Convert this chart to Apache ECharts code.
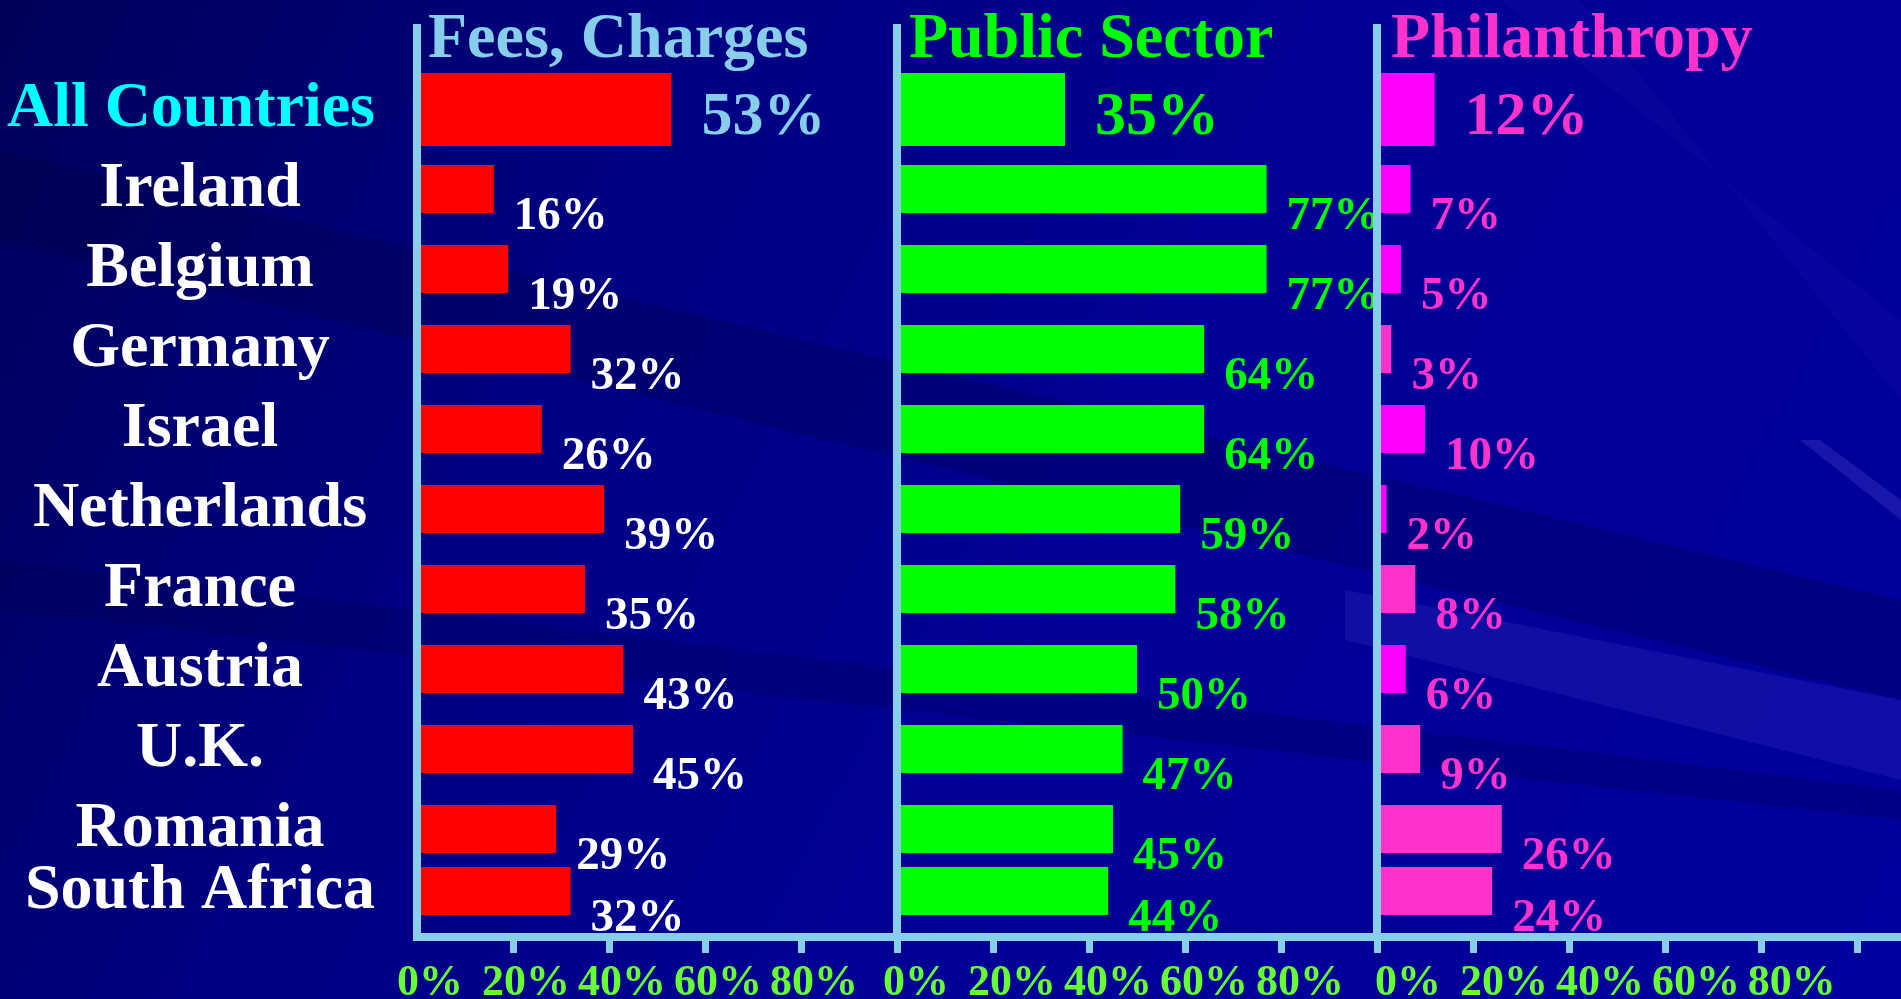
<!DOCTYPE html>
<html>
<head>
<meta charset="utf-8">
<title>Sources of funding</title>
<script src="https://cdn.jsdelivr.net/npm/echarts@6/dist/echarts.min.js"></script>
<style>
  html, body { margin: 0; padding: 0; background: #000090; overflow: hidden; }
  #chart { width: 1901px; height: 999px; }
</style>
</head>
<body>
<div id="chart"></div>
<script>
// data
var countries = ['All Countries', 'Ireland', 'Belgium', 'Germany', 'Israel', 'Netherlands', 'France', 'Austria', 'U.K.', 'Romania', 'South Africa'];
var fees = [53, 16, 19, 32, 26, 39, 35, 43, 45, 29, 32];
var publicSector = [35, 77, 77, 64, 64, 59, 58, 50, 47, 45, 44];
var philanthropy = [12, 7, 5, 3, 10, 2, 8, 6, 9, 26, 24];
var panelTitles = ['Fees, Charges', 'Public Sector', 'Philanthropy'];
var tickValues = [0, 20, 40, 60, 80];

// styles
var FONT = "'Times New Roman', 'Liberation Serif', serif";
var LINE = '#87CEEB';
var PINK = '#FF33CC', MAGENTA = '#FF00FF';
var philColors = [MAGENTA, MAGENTA, MAGENTA, PINK, MAGENTA, MAGENTA, PINK, MAGENTA, PINK, PINK, PINK];

var panels = [
    { data: fees, left: 417, width: 480, max: 100, lineOffset: 0, titleX: 428, titleColor: LINE,
      bar: '#FF0000', label: '#FFFFFF', headLabel: LINE, tickShift: 26 },
    { data: publicSector, left: 897, width: 480, max: 100, lineOffset: 0, titleX: 909, titleColor: '#00FF00',
      bar: '#00FF00', label: '#00FF00', headLabel: '#00FF00', tickShift: 38 },
    { data: philanthropy, left: 1377, width: 523, max: 109, lineOffset: 5, titleX: 1391, titleColor: PINK,
      bar: MAGENTA, label: PINK, headLabel: PINK, tickShift: 62, colors: philColors }
];

// row layout: head row, 9 body rows, squeezed last row
var HEAD_TOP = 73, HEAD_H = 73;
var BODY_TOP = 149, ROW_H = 80;
var TAIL_TOP = 867, BAR_H = 48;
var FRAME_TOP = 28, AXIS_Y = 937;

var myChart = echarts.init(document.getElementById('chart'));

var grid = [], xAxis = [], yAxis = [], series = [], title = [];

function barData(p, from, to) {
    return p.data.slice(from, to).map(function (v, i) {
        if (!p.colors) return v;
        return { value: v, itemStyle: { color: p.colors[from + i] } };
    });
}

panels.forEach(function (p, k) {
    var rows = [
        { top: HEAD_TOP, height: HEAD_H, from: 0, to: 1, barWidth: HEAD_H, head: true },
        { top: BODY_TOP, height: ROW_H * 9, from: 1, to: 10, barWidth: BAR_H },
        { top: TAIL_TOP, height: BAR_H, from: 10, to: 11, barWidth: BAR_H }
    ];

    // frame: axis lines, ticks, tick labels
    var g = grid.length;
    grid.push({ left: p.left, width: p.width, top: FRAME_TOP, height: AXIS_Y - FRAME_TOP, outerBoundsMode: 'none' });
    xAxis.push({
        type: 'value', gridIndex: g, min: 0, max: p.max, z: 5,
        axisLine: { show: true, lineStyle: { color: LINE, width: 8, cap: 'square' } },
        axisTick: { show: true, customValues: [20, 40, 60, 80, 100], length: 16, lineStyle: { color: LINE, width: 7 } },
        axisLabel: {
            customValues: tickValues,
            formatter: function (v) { return v + '%'; },
            color: '#66FF33', fontSize: 44, fontWeight: 'bold', fontFamily: FONT,
            margin: 25, padding: [0, 0, 0, p.tickShift]
        },
        splitLine: { show: false }
    });
    yAxis.push({
        type: 'value', gridIndex: g, min: 0, max: 1, z: 5, offset: p.lineOffset,
        axisLine: { show: true, lineStyle: { color: LINE, width: 8, cap: 'square' } },
        axisTick: { show: false }, axisLabel: { show: false }, splitLine: { show: false }
    });

    rows.forEach(function (r) {
        var gi = grid.length;
        grid.push({ left: p.left, width: p.width, top: r.top, height: r.height, outerBoundsMode: 'none' });
        xAxis.push({ type: 'value', gridIndex: gi, min: 0, max: p.max, show: false });
        yAxis.push({
            type: 'category', gridIndex: gi, inverse: true, z: 3,
            data: countries.slice(r.from, r.to),
            axisLine: { show: false }, axisTick: { show: false },
            axisLabel: {
                show: k === 0, interval: 0, align: 'center',
                margin: r.head ? 226 : 217,
                padding: r.head ? 0 : [24, 0, 0, 0],
                color: r.head ? '#00FFFF' : '#FFFFFF',
                fontSize: 64, fontWeight: 'bold', fontFamily: FONT
            }
        });
        series.push({
            type: 'bar', xAxisIndex: gi, yAxisIndex: gi,
            barWidth: r.barWidth,
            itemStyle: { color: p.bar },
            data: barData(p, r.from, r.to),
            label: {
                show: true, position: 'right', distance: 0,
                offset: r.head ? [30, 8] : [20, 28],
                formatter: function (d) { return d.value + '%'; },
                color: r.head ? p.headLabel : p.label,
                fontSize: r.head ? 62 : 47, fontWeight: 'bold', fontFamily: FONT
            }
        });
    });

    title.push({
        text: panelTitles[k], left: p.titleX, top: 8, padding: 0,
        textStyle: { color: p.titleColor, fontSize: 64, fontWeight: 'bold', fontFamily: FONT }
    });
});

option = {
    animation: false,
    backgroundColor: {
        type: 'linear', x: 0, y: 0, x2: 1, y2: 1,
        colorStops: [
            { offset: 0, color: '#00005A' },
            { offset: 0.3, color: '#000082' },
            { offset: 0.6, color: '#000096' },
            { offset: 1, color: '#00009C' }
        ]
    },
    graphic: [
        // background streaks
        { type: 'polygon', z: -1, silent: true, shape: { points: [[0, 150], [0, 240], [1901, 700], [1901, 600]] }, style: { fill: 'rgba(0,0,60,0.25)' } },
        { type: 'polygon', z: -1, silent: true, shape: { points: [[0, 560], [0, 610], [1901, 820], [1901, 790]] }, style: { fill: 'rgba(0,0,60,0.2)' } },
        { type: 'polygon', z: -1, silent: true, shape: { points: [[1345, 590], [1345, 640], [1901, 780], [1901, 700]] }, style: { fill: 'rgba(70,70,210,0.22)' } },
        { type: 'polygon', z: -1, silent: true, shape: { points: [[1500, 0], [1580, 0], [1901, 400], [1901, 320]] }, style: { fill: 'rgba(40,40,190,0.12)' } },
        { type: 'polygon', z: -1, silent: true, shape: { points: [[1800, 440], [1820, 440], [1901, 500], [1901, 520]] }, style: { fill: 'rgba(90,90,220,0.25)' } }
    ],
    title: title,
    grid: grid,
    xAxis: xAxis,
    yAxis: yAxis,
    series: series
};
myChart.setOption(option);
</script>
</body>
</html>
